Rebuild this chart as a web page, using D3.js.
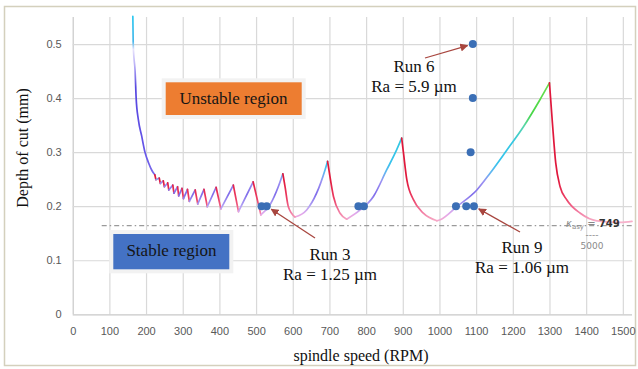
<!DOCTYPE html>
<html>
<head>
<meta charset="utf-8">
<script src="https://cdn.jsdelivr.net/npm/d3@7"></script>
<style>
  html, body { margin: 0; padding: 0; background: #fff; }
  svg { display: block; }
</style>
</head>
<body>
<svg id="chart" width="638" height="369"></svg>
<script>
// ---- data (spindle speed in RPM, depth of cut in mm) ----
const xTicks = [0, 100, 200, 300, 400, 500, 600, 700, 800, 900, 1000, 1100, 1200, 1300, 1400, 1500];
const yTicks = [0, 0.1, 0.2, 0.3, 0.4, 0.5];

// steep left branch of the chart
const envelopeRpm = [164, 165, 167, 170, 173, 179, 188, 197, 207, 216, 224];
const envelopeDepth = [0.551, 0.5, 0.475, 0.452, 0.4, 0.36, 0.33, 0.3, 0.28, 0.266, 0.258];

// small lobes: peak then minimum
const toothPeakRpm = [224, 236, 247, 259, 273, 286, 298, 313, 334, 358, 391, 438, 492];
const toothPeakDepth = [0.258, 0.252, 0.247, 0.243, 0.239, 0.236, 0.233, 0.231, 0.23, 0.231, 0.235, 0.239, 0.245];
const toothMinRpm = [227, 239, 250, 262, 276, 289, 302, 318, 341, 367, 404, 452, 513];
const toothMinDepth = [0.249, 0.242, 0.236, 0.23, 0.224, 0.219, 0.214, 0.209, 0.204, 0.199, 0.195, 0.19, 0.184];

// big lobes: rising branch (min -> peak) and falling branch (peak -> min)
const riseRpm = [
  [513, 540, 560, 573],
  [606, 638, 665, 688, 695],
  [747, 784, 820, 856, 879, 897],
  [993, 1002, 1047, 1102, 1138, 1184, 1229, 1274, 1300]
];
const riseDepth = [
  [0.184, 0.205, 0.235, 0.26],
  [0.18, 0.193, 0.224, 0.267, 0.283],
  [0.176, 0.193, 0.218, 0.267, 0.298, 0.326],
  [0.173, 0.175, 0.199, 0.23, 0.261, 0.304, 0.347, 0.397, 0.428]
];
const fallRpm = [
  [573, 579, 588, 606],
  [695, 700, 711, 729, 747],
  [897, 902, 911, 929, 956, 993],
  [1300, 1308, 1317, 1329, 1347, 1384, 1429, 1493, 1525]
];
const fallDepth = [
  [0.26, 0.236, 0.199, 0.18],
  [0.283, 0.261, 0.218, 0.187, 0.176],
  [0.326, 0.298, 0.249, 0.212, 0.187, 0.173],
  [0.428, 0.354, 0.28, 0.236, 0.212, 0.187, 0.173, 0.17, 0.172]
];

// test runs
const runRpm = [515, 529, 779, 794, 1045, 1073, 1094, 1085, 1091, 1091];
const runDepth = [0.2, 0.2, 0.2, 0.2, 0.2, 0.2, 0.2, 0.3, 0.4, 0.5];

const kAsy = 0.164;

// ---- chart ----
const svg = d3.select('#chart');
const x = d3.scaleLinear().domain([0, 1525]).range([72.7, 632]);
const y = d3.scaleLinear().domain([0, 0.55]).range([314.3, 17]);
const serif = '"Liberation Serif", "Times New Roman", serif';

// outer frame
svg.append('rect')
  .attr('x', 4.5).attr('y', 6.5).attr('width', 631).attr('height', 359)
  .attr('fill', '#fff').attr('stroke', '#d4d0bd').attr('stroke-width', 1.5);

// gridlines + tick labels through the axes
const xAxis = svg.append('g')
  .attr('transform', `translate(0,${y(0)})`)
  .call(d3.axisBottom(x).tickValues(xTicks).tickFormat(d => d)
    .tickSize(-(y(0) - y(0.55))).tickPadding(13));
const yAxis = svg.append('g')
  .attr('transform', `translate(${x(0)},0)`)
  .call(d3.axisLeft(y).tickValues(yTicks).tickFormat(d => d)
    .tickSize(-(632 - x(0))).tickPadding(11));

[xAxis, yAxis].forEach(g => {
  g.select('.domain').remove();
  g.selectAll('line').attr('stroke', '#d9d9d9').attr('stroke-width', 1.2);
  g.selectAll('text')
    .attr('fill', '#595959')
    .style('font-family', '"Liberation Sans", Arial, sans-serif')
    .style('font-size', '11px');
});
xAxis.selectAll('.tick').filter(d => d === 0).select('line').attr('stroke', '#c8c8c8');
yAxis.selectAll('.tick').filter(d => d === 0).select('line').attr('stroke', '#c8c8c8');

// dash-dot asymptote line
svg.append('line')
  .attr('x1', 101.7).attr('x2', 632)
  .attr('y1', y(kAsy)).attr('y2', y(kAsy))
  .attr('stroke', '#9a9a9a').attr('stroke-width', 1.2)
  .attr('stroke-dasharray', '5,3,1.5,3');

// gradients
const defs = svg.append('defs');
function gradient(id, d0, d1, stops) {
  const g = defs.append('linearGradient')
    .attr('id', id).attr('gradientUnits', 'userSpaceOnUse')
    .attr('x1', 0).attr('x2', 0).attr('y1', y(d0)).attr('y2', y(d1));
  g.selectAll('stop').data(stops).join('stop')
    .attr('offset', s => (s[0] - d0) / (d1 - d0))
    .attr('stop-color', s => s[1]);
}
gradient('riseGrad', 0.17, 0.43, [
  [0.17, '#f7a8c8'], [0.185, '#e4a8ea'], [0.2, '#b2a2f4'], [0.222, '#7f6cea'],
  [0.245, '#9c90f2'], [0.262, '#62b6f0'], [0.28, '#36c2ec'], [0.32, '#34c8e2'],
  [0.35, '#5ad6a4'], [0.37, '#46d646'], [0.43, '#6ee04e']
]);
gradient('fallGrad', 0.17, 0.43, [
  [0.17, '#f7b2cc'], [0.19, '#f27aa0'], [0.215, '#ec3c62'], [0.25, '#e0183c'], [0.43, '#e0183c']
]);
gradient('envGrad', 0.25, 0.55, [
  [0.25, '#7d6cea'], [0.3, '#6656e8'], [0.42, '#5646e0'], [0.46, '#b8aef6'],
  [0.49, '#e6e2fc'], [0.505, '#44b6ea'], [0.55, '#2ec8f0']
]);

const curve = d3.line().x(d => x(d[0])).y(d => y(d[1])).curve(d3.curveMonotoneX);
const straight = d3.line().x(d => x(d[0])).y(d => y(d[1]));
const lobes = svg.append('g').attr('fill', 'none').attr('stroke-width', 1.7).attr('stroke-linecap', 'round');

lobes.append('path')
  .attr('d', curve(d3.zip(envelopeRpm, envelopeDepth)))
  .attr('stroke', 'url(#envGrad)');

toothPeakRpm.forEach((r, i) => {
  lobes.append('path')
    .attr('d', straight([[r, toothPeakDepth[i]], [toothMinRpm[i], toothMinDepth[i]]]))
    .attr('stroke', 'url(#fallGrad)');
  if (i < toothPeakRpm.length - 1) {
    lobes.append('path')
      .attr('d', straight([[toothMinRpm[i], toothMinDepth[i]], [toothPeakRpm[i + 1], toothPeakDepth[i + 1]]]))
      .attr('stroke', 'url(#riseGrad)');
  }
});

riseRpm.forEach((rs, i) => {
  lobes.append('path')
    .attr('d', curve(d3.zip(rs, riseDepth[i])))
    .attr('stroke', 'url(#riseGrad)');
});
fallRpm.forEach((rs, i) => {
  lobes.append('path')
    .attr('d', curve(d3.zip(rs, fallDepth[i])))
    .attr('stroke', 'url(#fallGrad)');
});

// region boxes
function regionBox(x0, y0, w, h, fill, label, tx, ty) {
  svg.append('rect').attr('x', x0).attr('y', y0).attr('width', w).attr('height', h).attr('fill', '#f2f2f2');
  svg.append('rect').attr('x', x0 + 4).attr('y', y0 + 4).attr('width', w - 8).attr('height', h - 8).attr('fill', fill);
  svg.append('text').attr('x', tx).attr('y', ty).attr('text-anchor', 'middle')
    .style('font-family', serif).style('font-size', '17px').attr('fill', '#151515').text(label);
}
regionBox(161.7, 78.3, 144, 40.7, '#ed7d31', 'Unstable region', 233.5, 103.5);
regionBox(109.3, 230, 124, 43.3, '#4472c4', 'Stable region', 171.5, 256);

// kappa asy label
const kLab = svg.append('g').style('font-family', '"DejaVu Sans", sans-serif').attr('fill', '#8a8a8a');
const k1 = kLab.append('text').attr('x', 566).attr('y', 227).style('font-size', '10px');
k1.append('tspan').style('font-style', 'italic').text('κ');
k1.append('tspan').attr('dy', 2).style('font-size', '7px').text('asy');
k1.append('tspan').attr('dy', -2).text(' = ');
k1.append('tspan').attr('fill', '#333').style('font-weight', 'bold').text('749');
kLab.append('text').attr('x', 592).attr('y', 238).attr('text-anchor', 'middle').style('font-size', '9px').text('----');
kLab.append('text').attr('x', 592).attr('y', 249).attr('text-anchor', 'middle').style('font-size', '9px').text('5000');

// run points
svg.append('g').selectAll('circle')
  .data(d3.zip(runRpm, runDepth))
  .join('circle')
  .attr('cx', d => x(d[0])).attr('cy', d => y(d[1])).attr('r', 4)
  .attr('fill', '#3b6fb6');

// annotations
defs.append('marker')
  .attr('id', 'arrow').attr('viewBox', '0 0 10 10').attr('refX', 9).attr('refY', 5)
  .attr('markerWidth', 8).attr('markerHeight', 8).attr('orient', 'auto')
  .attr('markerUnits', 'userSpaceOnUse')
  .append('path').attr('d', 'M0,0L10,5L0,10z').attr('fill', '#a8463f');

const notes = [
  { run: 'Run 6', ra: 'Ra = 5.9 µm', at: 9, from: [425, 58], tx: 414, ty: 72 },
  { run: 'Run 3', ra: 'Ra = 1.25 µm', at: 1, from: [315, 238], tx: 330, ty: 260 },
  { run: 'Run 9', ra: 'Ra = 1.06 µm', at: 6, from: [520, 232], tx: 522, ty: 253 }
];
notes.forEach(n => {
  const px = x(runRpm[n.at]), py = y(runDepth[n.at]);
  const dx = px - n.from[0], dy = py - n.from[1], len = Math.hypot(dx, dy);
  svg.append('line')
    .attr('x1', n.from[0]).attr('y1', n.from[1])
    .attr('x2', px - dx / len * 5.5).attr('y2', py - dy / len * 5.5)
    .attr('stroke', '#a8463f').attr('stroke-width', 1.3)
    .attr('marker-end', 'url(#arrow)');
  const t = svg.append('g').attr('text-anchor', 'middle')
    .style('font-family', serif).style('font-size', '17px').attr('fill', '#111');
  t.append('text').attr('x', n.tx).attr('y', n.ty).text(n.run);
  t.append('text').attr('x', n.tx).attr('y', n.ty + 19.5).text(n.ra);
});

// axis titles
svg.append('text')
  .attr('transform', 'translate(28,148) rotate(-90)')
  .attr('text-anchor', 'middle')
  .style('font-family', serif).style('font-size', '16px').attr('fill', '#111')
  .text('Depth of cut (mm)');
svg.append('text')
  .attr('x', 361).attr('y', 361)
  .attr('text-anchor', 'middle')
  .style('font-family', serif).style('font-size', '16px').attr('fill', '#111')
  .text('spindle speed (RPM)');
</script>
</body>
</html>
